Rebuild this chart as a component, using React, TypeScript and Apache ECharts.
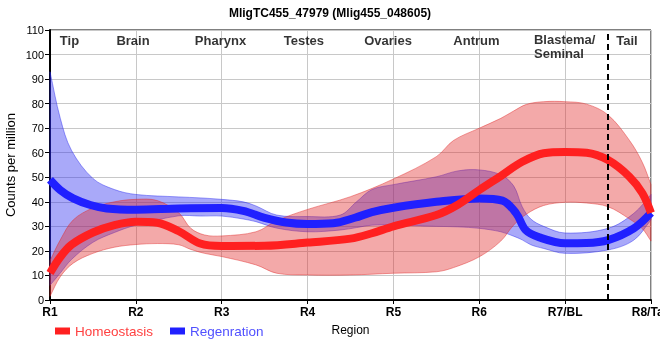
import React, { useEffect, useRef } from 'react';
import * as echarts from 'echarts';

const titleText = 'MligTC455_47979 (Mlig455_048605)';
const xTickLabels = ['R1', 'R2', 'R3', 'R4', 'R5', 'R6', 'R7/BL', 'R8/Tail'];

const regionNames = ['Tip', 'Brain', 'Pharynx', 'Testes', 'Ovaries', 'Antrum', 'Blastema/\nSeminal', 'Tail'];
const regionX = [1.227, 1.967, 2.986, 3.958, 4.937, 5.967, 6.637, 7.72];
const regionY = [105.9, 105.9, 105.9, 105.9, 105.9, 105.9, 103.2, 105.9];

// Homeostasis (red)
const redX = [1, 1.12, 1.25, 1.5, 1.75, 2, 2.25, 2.5, 2.75, 3, 3.5, 4, 4.5, 4.75, 5, 5.5, 5.75, 6, 6.25, 6.5, 6.75, 7, 7.25, 7.5, 7.75, 7.9, 8];
const redMean = [11, 17.5, 22.5, 27.5, 30.5, 31.9, 31.5, 28, 23, 22, 22.1, 23.4, 25, 27.2, 30, 34.6, 38.8, 44.8, 50.5, 56.3, 59.8, 60.3, 60, 57, 50.2, 43.5, 35.5];
const redBandX = [1, 1.12, 1.27, 1.5, 1.75, 2, 2.25, 2.5, 2.64, 2.8, 3, 3.4, 3.64, 4, 4.5, 5, 5.5, 5.7, 6, 6.25, 6.4, 6.55, 6.75, 7, 7.25, 7.5, 7.75, 7.9, 8];
const redUpper = [16, 24.5, 32.6, 37.5, 40, 41, 40.5, 35.5, 29.2, 26.5, 26.1, 27.8, 32.3, 36.9, 42.1, 49.3, 58.4, 65, 70, 74, 77, 79.7, 80.8, 80.8, 79.8, 75.4, 65, 56, 47];
const redLower = [1.5, 9.5, 15, 19, 21.5, 22.6, 23, 22.5, 20.6, 19, 17.7, 14.3, 10.9, 10.2, 10.2, 10.9, 11.5, 13.2, 17.6, 24, 30.5, 35, 38.5, 39.8, 39.5, 38, 33, 29, 24];

// Regenration (blue)
const blueX = [1, 1.12, 1.27, 1.47, 1.66, 2, 2.5, 3, 3.25, 3.5, 3.75, 4, 4.3, 4.55, 4.75, 5, 5.5, 6, 6.27, 6.43, 6.54, 6.7, 7, 7.25, 7.5, 7.8, 8];
const blueMean = [49, 44.8, 41.4, 38.7, 37.3, 36.8, 37.3, 37.5, 36.3, 33.5, 31.6, 31, 31.3, 33.5, 35.8, 37.6, 40, 41.4, 40.5, 35.3, 28.5, 25.5, 23.1, 23.2, 24.4, 29.2, 35.5];
const blueBandX = [1, 1.12, 1.25, 1.5, 1.75, 2, 2.5, 2.75, 3, 3.25, 3.4, 3.64, 4, 4.38, 4.57, 4.75, 5, 5.5, 5.75, 6, 6.25, 6.4, 6.5, 6.6, 6.75, 7, 7.5, 7.8, 8];
const blueUpper = [93, 74, 61, 49.5, 45, 43, 42, 41.6, 41, 40, 38.3, 34.6, 34, 34.6, 40, 45, 47, 50.2, 52.6, 53, 51, 46.5, 38, 33, 30, 27.3, 29.2, 35.3, 43];
const blueLower = [6, 11, 16.5, 23.5, 27.5, 30.5, 34.3, 34.2, 34.2, 33, 31.9, 29.3, 27.8, 28.5, 29.5, 30.5, 30.5, 30, 29.8, 29.2, 27.8, 26, 24.5, 22.5, 21, 19, 20.4, 24.4, 32.6];

const FONT = "'Liberation Sans', Arial, sans-serif";

const zip = (xs: number[], ys: number[]) => xs.map((x, i) => [x, ys[i]]);

function bandSeries(name: string, xs: number[], upper: number[], lower: number[], fill: string, stroke: string) {
  return {
    type: 'custom',
    name,
    coordinateSystem: 'cartesian2d',
    silent: true,
    data: [[xs[0], lower[0]]],
    renderItem: (_params: any, api: any) => {
      const up = xs.map((x, i) => api.coord([x, upper[i]]));
      const lo = xs.map((x, i) => api.coord([x, lower[i]])).reverse();
      const pts = [up[0], ...up, up[up.length - 1], lo[0], ...lo, lo[lo.length - 1]];
      return {
        type: 'polygon',
        shape: { points: pts, smooth: 0.35 },
        style: { fill, stroke, lineWidth: 1 },
      };
    },
  };
}

export default function App() {
  const ref = useRef<HTMLDivElement>(null);
  useEffect(() => {
    if (!ref.current) return;
    const chart = echarts.init(ref.current, undefined, { renderer: 'svg' });
    chart.setOption({
      animation: false,
      title: {
        text: titleText,
        left: 'center',
        top: 2,
        textStyle: { fontFamily: FONT, fontSize: 12, fontWeight: 'bold', color: '#000' },
      },
      grid: {
        left: 50, right: 9, top: 30, bottom: 60,
        outerBoundsMode: 'none',
        containLabel: false,
        show: true, borderColor: '#000', borderWidth: 1,
      },
      legend: {
        left: 55,
        top: 324,
        padding: 0,
        itemWidth: 15,
        itemHeight: 7,
        itemGap: 17,
        icon: 'rect',
        textStyle: { fontFamily: FONT, fontSize: 13.5 },
        data: [
          { name: 'Homeostasis', textStyle: { color: '#ff4040' } },
          { name: 'Regenration', textStyle: { color: '#5050ff' } },
        ],
      },
      xAxis: {
        type: 'value',
        min: 1,
        max: 8,
        interval: 1,
        name: 'Region',
        nameLocation: 'middle',
        nameGap: 24,
        nameMoveOverlap: false,
        nameTextStyle: { fontFamily: FONT, fontSize: 12, color: '#000' },
        axisLine: { lineStyle: { color: '#000', width: 2 } },
        axisTick: { show: true, length: 4, lineStyle: { color: '#000' } },
        axisLabel: {
          margin: 6,
          fontFamily: FONT,
          fontSize: 12,
          fontWeight: 'bold',
          color: '#000',
          hideOverlap: false,
          formatter: (v: number) => xTickLabels[Math.round(v) - 1] ?? '',
        },
        splitLine: { show: true, lineStyle: { color: '#c8c8c8', width: 1 } },
      },
      yAxis: {
        type: 'value',
        min: 0,
        max: 110,
        interval: 10,
        name: 'Counts per million',
        nameLocation: 'middle',
        nameGap: 33,
        nameMoveOverlap: false,
        nameTextStyle: { fontFamily: FONT, fontSize: 13, color: '#000' },
        axisLine: { show: true, lineStyle: { color: '#000', width: 2 } },
        axisTick: { show: true, length: 5, lineStyle: { color: '#000' } },
        axisLabel: { margin: 6, fontFamily: FONT, fontSize: 11, color: '#000' },
        splitLine: { show: true, lineStyle: { color: '#c8c8c8', width: 1 } },
      },
      series: [
        bandSeries('blueBand', blueBandX, blueUpper, blueLower, 'rgba(40,40,240,0.4)', 'rgba(40,40,240,0.45)'),
        {
          type: 'line',
          name: 'Regenration',
          data: zip(blueX, blueMean),
          smooth: 0.35,
          symbol: 'none',
          showSymbol: false,
          color: '#2020ff',
          lineStyle: { color: '#2020ff', width: 8 },
        },
        bandSeries('redBand', redBandX, redUpper, redLower, 'rgba(225,40,40,0.4)', 'rgba(225,40,40,0.45)'),
        {
          type: 'line',
          name: 'Homeostasis',
          data: zip(redX, redMean),
          smooth: 0.35,
          symbol: 'none',
          showSymbol: false,
          color: '#ff2020',
          lineStyle: { color: '#ff2020', width: 8 },
          markLine: {
            silent: true,
            symbol: ['none', 'none'],
            label: { show: false },
            lineStyle: { color: '#000', type: [6, 4], width: 2 },
            data: [{ xAxis: 7.5 }],
          },
        },
        {
          type: 'scatter',
          name: 'regions',
          silent: true,
          symbolSize: 1,
          itemStyle: { color: 'rgba(0,0,0,0)' },
          data: regionNames.map((n, i) => ({
            name: n,
            value: [regionX[i], regionY[i]],
            label: i === 6 ? { align: 'left' } : undefined,
          })),
          label: {
            show: true,
            position: 'inside',
            formatter: '{b}',
            fontFamily: FONT,
            fontSize: 13,
            fontWeight: 'bold',
            color: '#000',
            lineHeight: 14,
          },
        },
      ],
    });
    return () => chart.dispose();
  }, []);
  return <div ref={ref} style={{ position: 'fixed', left: 0, top: 0, width: 660, height: 360 }} />;
}
